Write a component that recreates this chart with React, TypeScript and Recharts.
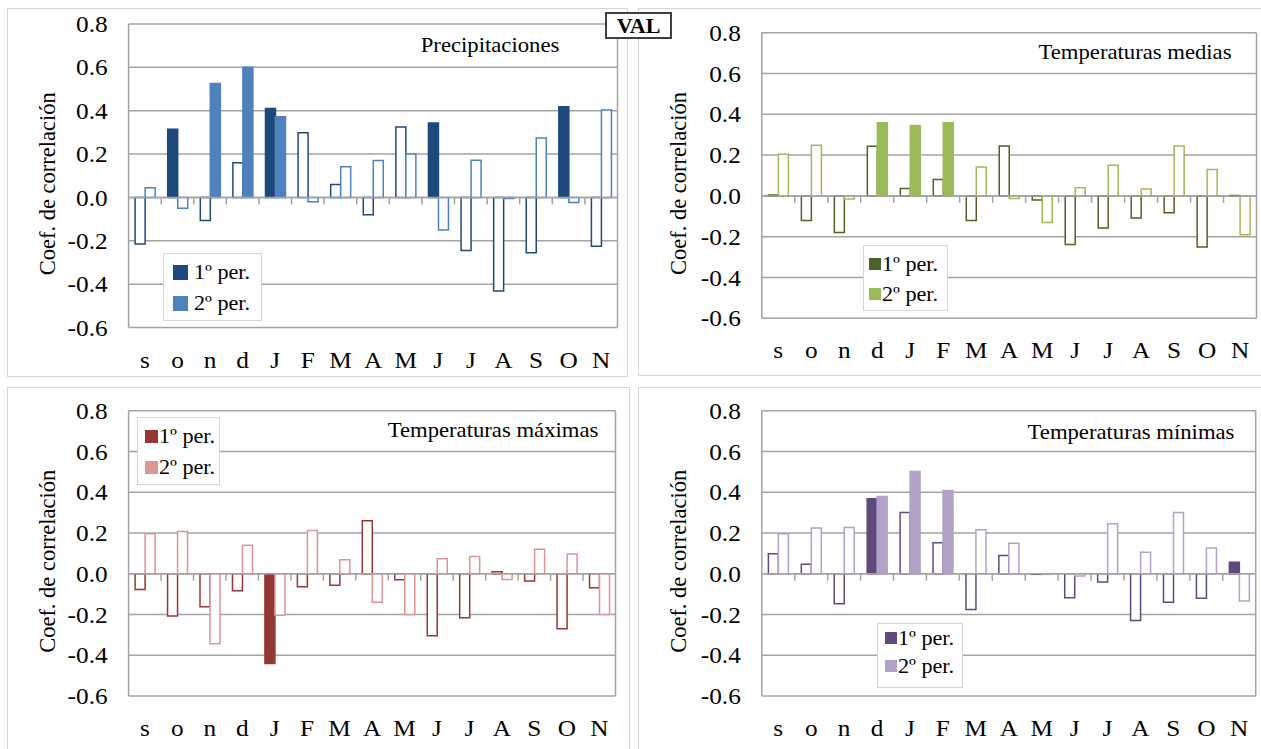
import React from 'react'
import { BarChart, Bar, Cell, XAxis, YAxis, CartesianGrid, ReferenceLine } from 'recharts'

const FONT = '"Liberation Serif", "Times New Roman", serif'

const months = ['s', 'o', 'n', 'd', 'J', 'F', 'M', 'A', 'M', 'J', 'J', 'A', 'S', 'O', 'N']
const yTicks = [-0.6, -0.4, -0.2, 0, 0.2, 0.4, 0.6, 0.8]
const seriesNames = ['1º per.', '2º per.']

// precipitaciones
const precip1 = [-0.215, 0.315, -0.107, 0.16, 0.41, 0.298, 0.06, -0.08, 0.325, 0.343, -0.245, -0.432, -0.255, 0.418, -0.225]
const precip2 = [0.045, -0.05, 0.525, 0.6, 0.372, -0.02, 0.141, 0.17, 0.2, -0.15, 0.172, -0.005, 0.274, -0.023, 0.403]
const precipSig1 = [0, 1, 0, 0, 1, 0, 0, 0, 0, 1, 0, 0, 0, 1, 0]
const precipSig2 = [0, 0, 1, 1, 1, 0, 0, 0, 0, 0, 0, 0, 0, 0, 0]

// temperaturas medias
const medias1 = [0.005, -0.12, -0.18, 0.243, 0.036, 0.08, -0.12, 0.245, -0.02, -0.238, -0.157, -0.108, -0.082, -0.25, 0.002]
const medias2 = [0.204, 0.248, -0.015, 0.358, 0.345, 0.358, 0.142, -0.013, -0.13, 0.04, 0.15, 0.034, 0.245, 0.13, -0.19]
const mediasSig1 = [0, 0, 0, 0, 0, 0, 0, 0, 0, 0, 0, 0, 0, 0, 0]
const mediasSig2 = [0, 0, 0, 1, 1, 1, 0, 0, 0, 0, 0, 0, 0, 0, 0]

// temperaturas maximas
const maximas1 = [-0.078, -0.207, -0.162, -0.083, -0.441, -0.064, -0.056, 0.26, -0.03, -0.304, -0.216, 0.01, -0.036, -0.27, -0.069]
const maximas2 = [0.196, 0.207, -0.343, 0.14, -0.204, 0.212, 0.069, -0.14, -0.2, 0.074, 0.085, -0.028, 0.12, 0.097, -0.2]
const maximasSig1 = [0, 0, 0, 0, 1, 0, 0, 0, 0, 0, 0, 0, 0, 0, 0]
const maximasSig2 = [0, 0, 0, 0, 0, 0, 0, 0, 0, 0, 0, 0, 0, 0, 0]

// temperaturas minimas
const minimas1 = [0.098, 0.046, -0.147, 0.368, 0.3, 0.152, -0.176, 0.09, -0.003, -0.118, -0.04, -0.229, -0.14, -0.12, 0.056]
const minimas2 = [0.196, 0.224, 0.227, 0.379, 0.502, 0.408, 0.216, 0.15, -0.003, -0.011, 0.245, 0.106, 0.3, 0.126, -0.134]
const minimasSig1 = [0, 0, 0, 1, 0, 0, 0, 0, 0, 0, 0, 0, 0, 0, 1]
const minimasSig2 = [0, 0, 0, 1, 1, 1, 0, 0, 0, 0, 0, 0, 0, 0, 0]

const GRID = '#a3a3a3'

const MonthTick = (props: any) => {
  const { x, y, payload } = props
  return (
    <text transform={`translate(${x},${y + 32}) scale(1.1,1)`} textAnchor="middle" dominantBaseline="central"
      fontSize={23} fontFamily={FONT} fill="#000">{payload.value}</text>
  )
}

const ValueTick = (props: any) => {
  const { x, y, payload } = props
  return (
    <text transform={`translate(${x - 21},${y}) scale(1.1,1)`} textAnchor="end" dominantBaseline="central"
      fontSize={23} fontFamily={FONT} fill="#000">{Number(payload.value).toFixed(1)}</text>
  )
}

const ZeroLine = (props: any) => {
  const { x1, x2, y1 } = props
  const step = (x2 - x1) / months.length
  return (
    <g>
      <line x1={x1} x2={x2} y1={y1} y2={y1} stroke={GRID} strokeWidth={1.5} />
      {months.map((_, i) => i > 0 && (
        <line key={i} x1={x1 + i * step} x2={x1 + i * step} y1={y1} y2={y1 + 7} stroke={GRID} strokeWidth={1.5} />
      ))}
    </g>
  )
}

interface Plot { left: number; right: number; top: number; bottom: number }
interface LegendBox { x: number; y: number; w: number; h: number; sqX: number; sq: number; textX: number; rows: number[] }

interface PanelProps {
  box: { x: number; y: number; w: number; h: number }
  plot: Plot
  v1: number[]
  v2: number[]
  sig1: number[]
  sig2: number[]
  colors: string[]
  title: string
  titlePos: { cx: number; cy: number }
  legend: LegendBox
}

function Panel({ box, plot, v1, v2, sig1, sig2, colors, title, titlePos, legend }: PanelProps) {
  const data = months.map((m, i) => ({ month: m, p1: v1[i], p2: v2[i] }))
  const chartH = plot.bottom - box.y + 50
  return (
    <>
      <div style={{ position: 'absolute', left: box.x, top: box.y, width: box.w, height: box.h, border: '1px solid #d6d6d6', boxSizing: 'border-box', background: '#fff' }} />
      <div style={{ position: 'absolute', left: box.x, top: box.y }}>
        <BarChart width={box.w} height={chartH} data={data} barGap={0} barCategoryGap="20%"
          margin={{ top: plot.top - box.y, right: box.x + box.w - plot.right, left: 0, bottom: 0 }}>
          <CartesianGrid stroke={GRID} strokeWidth={1.5}
            verticalCoordinatesGenerator={({ offset }: any) => [offset.left, offset.left + offset.width]} />
          <XAxis dataKey="month" height={50} axisLine={false} tickLine={false} tickSize={0} tickMargin={0}
            interval={0} tick={<MonthTick />} />
          <YAxis domain={[-0.6, 0.8]} ticks={yTicks} width={plot.left - box.x} axisLine={false} tickLine={false}
            tickSize={0} tickMargin={0} tick={<ValueTick />} allowDataOverflow
            label={{
              content: ({ viewBox }: any) => (
                <text transform={`translate(${viewBox.x + 40},${viewBox.y + viewBox.height / 2 + 8}) rotate(-90)`}
                  textAnchor="middle" dominantBaseline="central" fontSize={22.5} fontFamily={FONT} fill="#000">
                  Coef. de correlación
                </text>
              ),
            }} />
          <ReferenceLine y={0} shape={<ZeroLine />} />
          <Bar dataKey="p1" isAnimationActive={false}>
            {data.map((_, i) => (
              <Cell key={i} fill={sig1[i] ? colors[0] : '#fff'} stroke={colors[0]} strokeWidth={1.5} />
            ))}
          </Bar>
          <Bar dataKey="p2" isAnimationActive={false}>
            {data.map((_, i) => (
              <Cell key={i} fill={sig2[i] ? colors[1] : '#fff'} stroke={colors[1]} strokeWidth={1.5} />
            ))}
          </Bar>
        </BarChart>
      </div>
      <div style={{ position: 'absolute', left: titlePos.cx, top: titlePos.cy, transform: 'translate(-50%,-50%) scaleX(1.08)', whiteSpace: 'nowrap', fontFamily: FONT, fontSize: 21, color: '#000' }}>
        {title}
      </div>
      <div style={{ position: 'absolute', left: legend.x, top: legend.y, width: legend.w, height: legend.h, border: '1px solid #d6d6d6', boxSizing: 'border-box', background: '#fff' }} />
      {seriesNames.map((name, i) => (
        <React.Fragment key={name}>
          <div style={{ position: 'absolute', left: legend.sqX, top: legend.rows[i] - legend.sq / 2, width: legend.sq, height: legend.sq, background: colors[i] }} />
          <div style={{ position: 'absolute', left: legend.textX, top: legend.rows[i], transform: 'translateY(-50%) scaleX(1.08)', transformOrigin: 'left center', whiteSpace: 'nowrap', fontFamily: FONT, fontSize: 20.5, lineHeight: 1, color: '#000' }}>
            {name}
          </div>
        </React.Fragment>
      ))}
    </>
  )
}

export default function App() {
  return (
    <div style={{ position: 'absolute', left: 0, top: 0, width: 1261, height: 749, overflow: 'hidden', background: '#fff' }}>
      <Panel box={{ x: 7, y: 8, w: 621, h: 369 }} plot={{ left: 128.6, right: 617.5, top: 24, bottom: 327.5 }}
        v1={precip1} v2={precip2} sig1={precipSig1} sig2={precipSig2} colors={['#1F497D', '#4F81BD']}
        title="Precipitaciones" titlePos={{ cx: 489.5, cy: 45 }}
        legend={{ x: 163, y: 253, w: 99, h: 68, sqX: 173, sq: 15, textX: 194, rows: [272, 303] }} />
      <Panel box={{ x: 638, y: 8, w: 630, h: 368 }} plot={{ left: 761.8, right: 1256.5, top: 32.7, bottom: 318.3 }}
        v1={medias1} v2={medias2} sig1={mediasSig1} sig2={mediasSig2} colors={['#4F6228', '#9BBB59']}
        title="Temperaturas medias" titlePos={{ cx: 1135, cy: 52 }}
        legend={{ x: 863, y: 245, w: 85, h: 66, sqX: 869, sq: 12, textX: 882, rows: [263.5, 294] }} />
      <Panel box={{ x: 7, y: 387, w: 623, h: 372 }} plot={{ left: 128.6, right: 615.5, top: 410.7, bottom: 696 }}
        v1={maximas1} v2={maximas2} sig1={maximasSig1} sig2={maximasSig2} colors={['#953735', '#D99694']}
        title="Temperaturas máximas" titlePos={{ cx: 493, cy: 430 }}
        legend={{ x: 137, y: 417, w: 83, h: 68, sqX: 145, sq: 13, textX: 159, rows: [436, 467] }} />
      <Panel box={{ x: 638, y: 387, w: 630, h: 372 }} plot={{ left: 761.8, right: 1255.7, top: 410.7, bottom: 696 }}
        v1={minimas1} v2={minimas2} sig1={minimasSig1} sig2={minimasSig2} colors={['#604A7B', '#B3A2C7']}
        title="Temperaturas mínimas" titlePos={{ cx: 1130.5, cy: 432 }}
        legend={{ x: 877, y: 623, w: 86, h: 65, sqX: 885, sq: 12, textX: 898, rows: [637.5, 666] }} />
      <div style={{ position: 'absolute', left: 605, top: 12, width: 67, height: 27, border: '2px solid #404040', boxSizing: 'border-box', background: '#fff', display: 'flex', alignItems: 'center', justifyContent: 'center', fontFamily: FONT, fontWeight: 'bold', fontSize: 22 }}>
        VAL
      </div>
    </div>
  )
}
